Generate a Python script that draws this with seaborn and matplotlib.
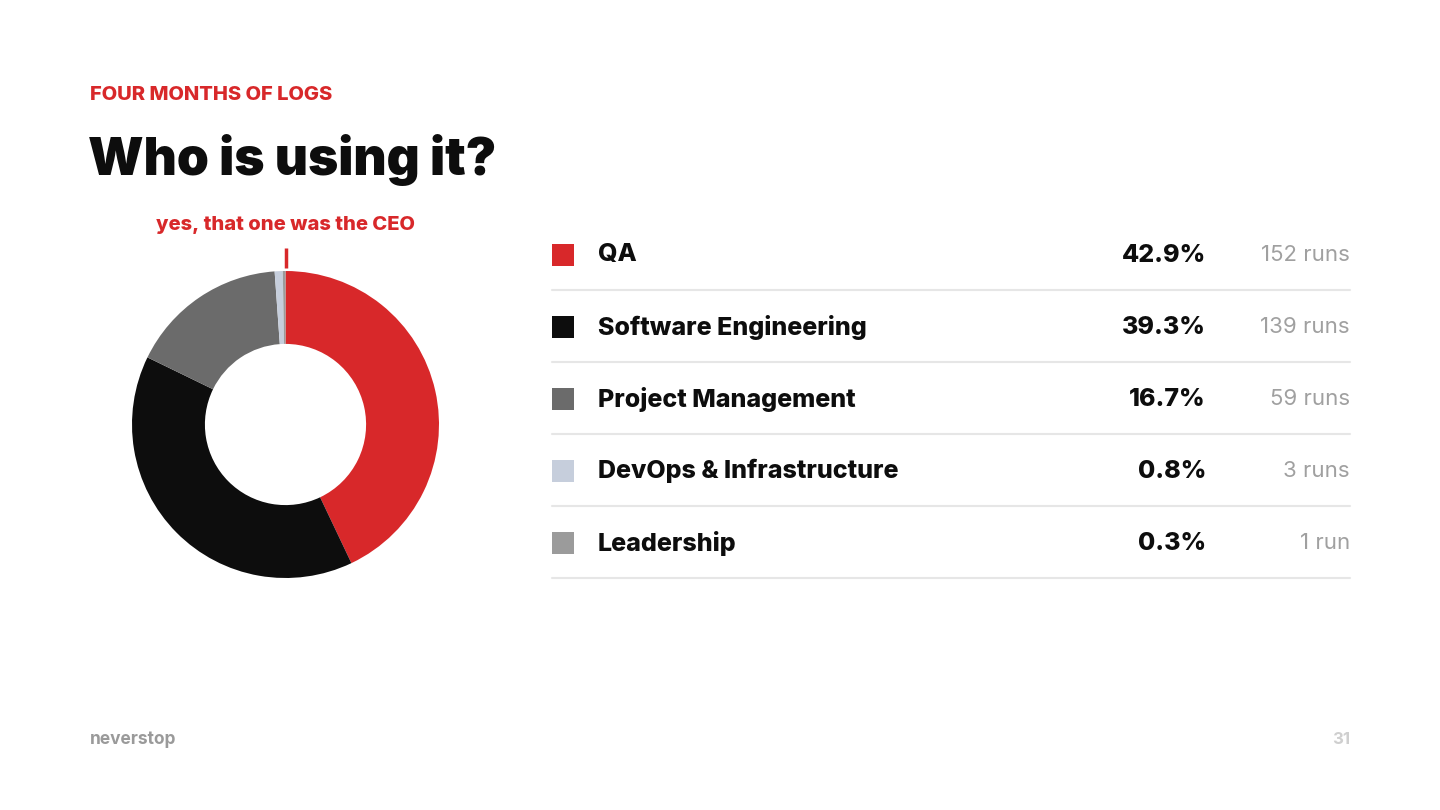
import numpy as np
import pandas as pd
import matplotlib.pyplot as plt
import seaborn as sns

# Data
teams = ["QA", "Software Engineering", "Project Management",
         "DevOps & Infrastructure", "Leadership"]
runs = [152, 139, 59, 3, 1]
pct_labels = ["42.9%", "39.3%", "16.7%", "0.8%", "0.3%"]
run_labels = ["152 runs", "139 runs", "59 runs", "3 runs", "1 run"]
colors = ["#d8282a", "#0d0d0d", "#6b6b6b", "#c6cedc", "#9b9b9b"]

df = pd.DataFrame({"team": teams, "runs": runs, "pct": pct_labels,
                   "label": run_labels, "row": range(len(teams))})

sns.set_theme(style="white")
plt.rcParams["font.family"] = ["Inter", "DejaVu Sans"]

RED = "#d8282a"
fig = plt.figure(figsize=(14.4, 8.1), dpi=100)
fig.patch.set_facecolor("white")

# overlay axes in pixel coords
ov = fig.add_axes([0, 0, 1, 1])
ov.set_xlim(0, 1440)
ov.set_ylim(810, 0)
ov.axis("off")

ov.text(90, 95, "FOUR MONTHS OF LOGS", color=RED, fontsize=14.5,
        fontweight="heavy", va="center", ha="left")
ov.text(88, 160, "Who is using it?", color="#0d0d0d", fontsize=37,
        fontweight="black", va="center", ha="left")
ov.text(285, 225, "yes, that one was the CEO", color=RED, fontsize=14.5,
        fontweight="heavy", va="center", ha="center")
ov.plot([286, 286], [248, 268], color=RED, lw=2.5, solid_capstyle="butt")

# table rows
row_y = 255 + 72 * df["row"]
sns.scatterplot(x=np.full(len(df), 563), y=row_y, hue=df["team"],
                palette=colors, marker="s", s=250, linewidth=0,
                legend=False, ax=ov)
for y, t, p, r in zip(row_y, df["team"], df["pct"], df["label"]):
    ov.text(598, y, t, fontsize=18, fontweight="heavy", color="#0d0d0d",
            va="center", ha="left")
    ov.text(1206, y, p, fontsize=18, fontweight="heavy", color="#0d0d0d",
            va="center", ha="right")
    ov.text(1350, y, r, fontsize=16, color="#a0a0a0",
            va="center", ha="right")
    ov.plot([552, 1350], [y + 35, y + 35], color="#e6e6e6", lw=1.5)

ov.text(90, 740, "neverstop", fontsize=12.5, fontweight="bold",
        color="#9a9a9a", va="center", ha="left")
ov.text(1350, 740, "31", fontsize=12, fontweight="bold",
        color="#cfcfcf", va="center", ha="right")

# donut
pax = fig.add_axes([(285.5 - 153.5) / 1440, (810 - 424.5 - 153.5) / 810,
                    307 / 1440, 307 / 810])
pax.pie(df["runs"], colors=colors, startangle=90, counterclock=False,
        wedgeprops=dict(width=0.475, linewidth=0))
pax.set_xlim(-1, 1)
pax.set_ylim(-1, 1)
pax.set_aspect("equal")
pax.axis("off")

fig.savefig("out.png", dpi=100, facecolor="white")
